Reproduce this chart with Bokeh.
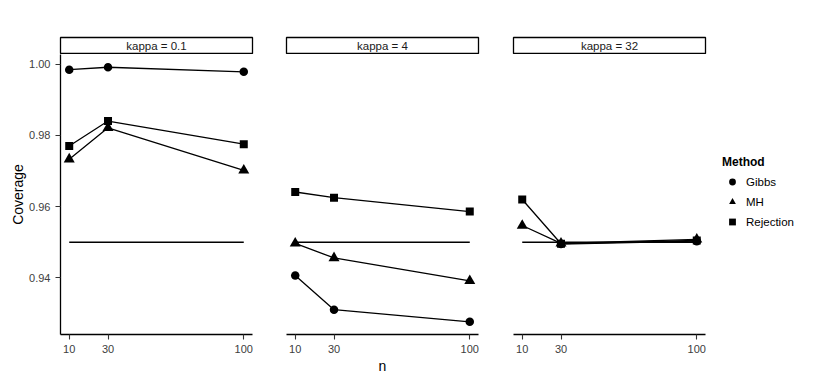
import math
from bokeh.plotting import figure
from bokeh.layouts import row, column
from bokeh.models import Range1d, FixedTicker, Legend, LegendItem, Label
from bokeh.embed import file_html
from bokeh.resources import INLINE

# ---------------- data ----------------
n_values = [10, 30, 100]
kappa_labels = ["0.1", "4", "32"]
methods = ["Gibbs", "MH", "Rejection"]
target = 0.95

gibbs_k01 = [0.9984, 0.9991, 0.9978]
mh_k01 = [0.9733, 0.9821, 0.9702]
rej_k01 = [0.9770, 0.9840, 0.9775]

gibbs_k4 = [0.9407, 0.9311, 0.9277]
mh_k4 = [0.9497, 0.9456, 0.9392]
rej_k4 = [0.9641, 0.9625, 0.9586]

gibbs_k32 = [float("nan"), 0.9495, 0.9503]
mh_k32 = [0.9547, 0.9497, 0.9508]
rej_k32 = [0.9620, 0.9496, 0.9505]

y_ticks = [0.94, 0.96, 0.98, 1.00]
y_tick_labels = ["0.94", "0.96", "0.98", "1.00"]
x_ticks = [10, 30, 100]
x_tick_labels = ["10", "30", "100"]

panels = [
    [gibbs_k01, mh_k01, rej_k01],
    [gibbs_k4, mh_k4, rej_k4],
    [gibbs_k32, mh_k32, rej_k32],
]

# ---------------- style ----------------
FONT = "Liberation Sans"
markers = {"Gibbs": ("circle", 8.5), "MH": ("triangle", 11), "Rejection": ("square", 8)}
FRAME_W = 192
FRAME_H = 280
TOP = 37
borders = [(60, 17), (17, 17), (18, 117)]

all_vals = [v for pan in panels for s in pan for v in s if not math.isnan(v)] + [target]
ylo, yhi = min(all_vals), max(all_vals)
ypad = 0.05 * (yhi - ylo)
xlo, xhi = min(n_values), max(n_values)
xpad = 0.05 * (xhi - xlo)

strips = []
plots = []
legend_renderers = {}
for i, series in enumerate(panels):
    bl, br = borders[i]
    # strip
    s = figure(frame_width=FRAME_W, frame_height=17, x_range=Range1d(0, 1), y_range=Range1d(0, 1),
               output_backend="svg", toolbar_location=None, x_axis_location=None, y_axis_location=None,
               min_border_left=bl, min_border_right=br, min_border_top=TOP, min_border_bottom=0)
    s.grid.visible = False
    s.outline_line_color = "black"
    s.outline_line_width = 1.3
    s.background_fill_color = "white"
    s.border_fill_color = "white"
    s.add_layout(Label(x=0.5, y=0.5, text=f"kappa = {kappa_labels[i]}", text_align="center",
                       text_baseline="middle", text_font=FONT, text_font_size="11.5px",
                       text_color="#1a1a1a"))
    strips.append(s)

    p = figure(frame_width=FRAME_W, frame_height=FRAME_H,
               x_range=Range1d(xlo - xpad, xhi + xpad), y_range=Range1d(ylo - ypad, yhi + ypad),
               output_backend="svg", toolbar_location=None,
               y_axis_location="left" if i == 0 else None,
               min_border_left=bl, min_border_right=br, min_border_top=0, min_border_bottom=38)
    p.grid.visible = False
    p.outline_line_color = None
    p.background_fill_color = "white"
    p.border_fill_color = "white"

    xa = p.xaxis[0]
    xa.ticker = FixedTicker(ticks=x_ticks, minor_ticks=[])
    xa.major_label_overrides = dict(zip(x_ticks, x_tick_labels))
    xa.axis_line_color = "black"
    xa.axis_line_width = 1.3
    xa.major_tick_out = 5
    xa.major_tick_in = 0
    xa.major_tick_line_color = "#333333"
    xa.major_tick_line_width = 1.1
    xa.minor_tick_out = 0
    xa.minor_tick_in = 0
    xa.major_label_standoff = 5
    xa.major_label_text_font = FONT
    xa.major_label_text_font_size = "11px"
    xa.major_label_text_color = "#404040"
    if i == 1:
        xa.axis_label = "n"
        xa.axis_label_text_font = FONT
        xa.axis_label_text_font_size = "14px"
        xa.axis_label_text_font_style = "normal"
        xa.axis_label_text_color = "black"
        xa.axis_label_standoff = 2

    if i == 0:
        ya = p.yaxis[0]
        ya.ticker = FixedTicker(ticks=y_ticks, minor_ticks=[])
        ya.major_label_overrides = dict(zip(y_ticks, y_tick_labels))
        ya.axis_line_color = "black"
        ya.axis_line_width = 1.3
        ya.major_tick_out = 5
        ya.major_tick_in = 0
        ya.major_tick_line_color = "#333333"
        ya.major_tick_line_width = 1.1
        ya.minor_tick_out = 0
        ya.minor_tick_in = 0
        ya.major_label_standoff = 5
        ya.major_label_text_font = FONT
        ya.major_label_text_font_size = "11px"
        ya.major_label_text_color = "#404040"
        ya.axis_label = "Coverage"
        ya.axis_label_text_font = FONT
        ya.axis_label_text_font_size = "14px"
        ya.axis_label_text_font_style = "normal"
        ya.axis_label_text_color = "black"
        ya.axis_label_standoff = 0

    # reference line
    p.line([n_values[0], n_values[-1]], [target, target], line_color="black", line_width=1.3)
    for m, vals in zip(methods, series):
        p.line(n_values, vals, line_color="black", line_width=1.3)
    for m, vals in zip(methods, series):
        mk, sz = markers[m]
        r = p.scatter(n_values, vals, marker=mk, size=sz, fill_color="black", line_color=None)
        if i == 2:
            legend_renderers[m] = r
    plots.append(p)

legend = Legend(items=[LegendItem(label=m, renderers=[legend_renderers[m]]) for m in methods],
                title="Method", location=(17, 104),
                title_text_font=FONT, title_text_font_style="bold", title_text_font_size="12px",
                title_text_color="black",
                label_text_font=FONT, label_text_font_size="11.5px", label_text_color="black",
                glyph_width=20, glyph_height=17, label_height=17, spacing=3,
                label_standoff=4, title_standoff=4, padding=0, margin=0,
                border_line_color=None, background_fill_alpha=0)
plots[2].add_layout(legend, "right")

layout = column(row(*strips, spacing=0), row(*plots, spacing=0), spacing=0)

open("out.html", "w").write(file_html(layout, INLINE))
